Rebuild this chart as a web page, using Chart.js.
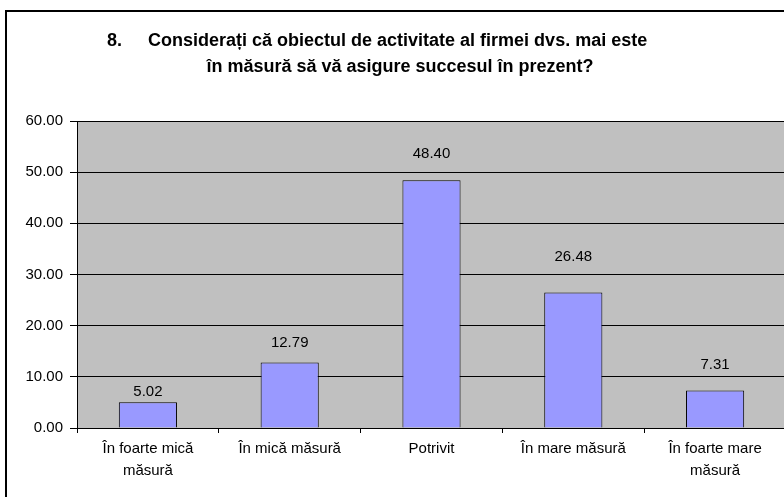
<!DOCTYPE html>
<html>
<head>
<meta charset="utf-8">
<script src="https://cdn.jsdelivr.net/npm/chart.js@4/dist/chart.umd.min.js"></script>
<style>
  html, body { margin: 0; padding: 0; background: #fff; overflow: hidden; }
</style>
</head>
<body>
<canvas id="bar-chart" width="790" height="497"></canvas>
<script>
const titleNumber = '8.';
const titleLines = [
  'Considerați că obiectul de activitate al firmei dvs. mai este',
  'în măsură să vă asigure succesul în prezent?'
];
const categories = [
  ['În foarte mică', 'măsură'],
  'În mică măsură',
  'Potrivit',
  'În mare măsură',
  ['În foarte mare', 'măsură']
];
const percentages = [5.02, 12.79, 48.40, 26.48, 7.31];
const yTicks = [0, 10, 20, 30, 40, 50, 60];

const FONT = 'Arial, "Liberation Sans", sans-serif';

// grey plot area + outer frame + title
const frame = {
  id: 'frame',
  beforeDraw(chart) {
    const { ctx, chartArea: a } = chart;
    ctx.save();
    ctx.fillStyle = '#c0c0c0';
    ctx.fillRect(a.left, a.top, a.right - a.left, a.bottom - a.top);
    ctx.strokeStyle = '#000';
    ctx.lineWidth = 2;
    ctx.strokeRect(6, 11, chart.width, chart.height);
    ctx.fillStyle = '#000';
    ctx.font = 'bold 18px ' + FONT;
    ctx.textBaseline = 'alphabetic';
    ctx.textAlign = 'left';
    ctx.fillText(titleNumber, 107, 46);
    ctx.fillText(titleLines[0], 148, 46);
    ctx.textAlign = 'center';
    ctx.fillText(titleLines[1], 400, 72);
    ctx.restore();
  }
};

// value labels above bars (Excel-style, moved by hand in the original)
const labelOffsets = [10, 20, 26, 36, 26];
const valueLabels = {
  id: 'valueLabels',
  afterDatasetsDraw(chart) {
    const { ctx } = chart;
    const meta = chart.getDatasetMeta(0);
    ctx.save();
    ctx.fillStyle = '#000';
    ctx.font = '15px ' + FONT;
    ctx.textAlign = 'center';
    ctx.textBaseline = 'middle';
    meta.data.forEach((bar, i) => {
      ctx.fillText(percentages[i].toFixed(2), bar.x, bar.y - labelOffsets[i]);
    });
    ctx.restore();
  }
};

new Chart(document.getElementById('bar-chart'), {
  type: 'bar',
  data: {
    labels: categories,
    datasets: [{
      data: percentages,
      backgroundColor: '#9999ff',
      borderColor: '#000',
      borderWidth: 1,
      categoryPercentage: 1,
      barPercentage: 0.41
    }]
  },
  options: {
    responsive: false,
    animation: false,
    devicePixelRatio: 1,
    layout: { padding: { top: 121, right: 4, bottom: 0, left: 0 } },
    plugins: {
      legend: { display: false },
      title: { display: false },
      tooltip: { enabled: false }
    },
    scales: {
      x: {
        offset: true,
        grid: { offset: true, drawOnChartArea: false, drawTicks: true, tickLength: 5, color: '#000' },
        border: { display: true, color: '#000', width: 1 },
        ticks: {
          color: '#000',
          padding: 5,
          maxRotation: 0,
          autoSkip: false,
          font: { family: FONT, size: 15, lineHeight: 1.45 }
        },
        afterFit(scale) { scale.height = 69; }
      },
      y: {
        min: yTicks[0],
        max: yTicks[yTicks.length - 1],
        afterBuildTicks(scale) { scale.ticks = yTicks.map(v => ({ value: v })); },
        grid: { color: '#000', lineWidth: 1, tickLength: 7, drawTicks: true },
        border: { display: true, color: '#000', width: 1 },
        ticks: {
          color: '#000',
          padding: 7,
          font: { family: FONT, size: 15 },
          callback: v => Number(v).toFixed(2)
        },
        afterFit(scale) { scale.width = 77; }
      }
    }
  },
  plugins: [frame, valueLabels]
});
</script>
</body>
</html>
